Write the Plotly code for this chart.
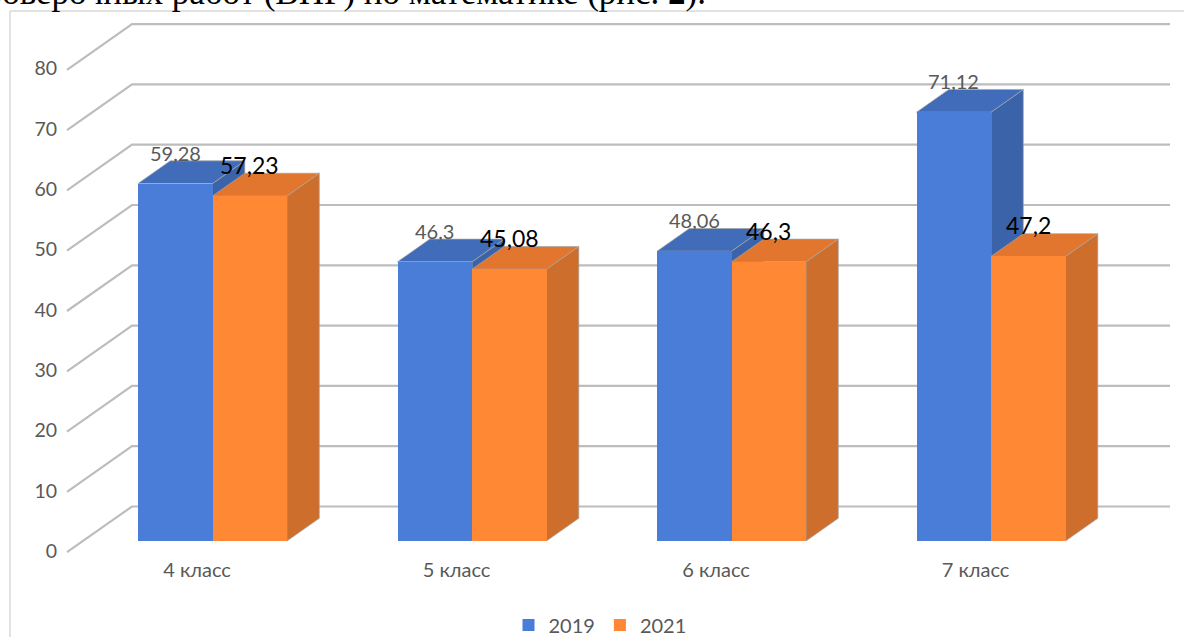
import plotly.graph_objects as go

# --- data ---
categories = ["4 класс", "5 класс", "6 класс", "7 класс"]
series_names = ["2019", "2021"]
values_2019 = [59.28, 46.3, 48.06, 71.12]
values_2021 = [57.23, 45.08, 46.3, 47.2]
y_ticks = [0, 10, 20, 30, 40, 50, 60, 70, 80]
heading = "проверочных работ (ВПР) по математике (рис. <b>2</b>)."

# --- layout constants (pixels) ---
W, H = 1184, 637
GROUP_PX = 259.5          # distance between categories
FIRST_PX = 212.5          # px of first category centre
BAR_PX = 74.5             # width of one bar
PX_PER_UNIT = 6.03
BASE_PX = 541             # px of value 0 on the front plane of the bars
LABEL_BASE_PX = 551       # px of value 0 on the axis labels
DEPTH_X = 32.3 / GROUP_PX # bar depth in x units
DEPTH_Y = 22.7 / PX_PER_UNIT
GRID_DEPTH = (LABEL_BASE_PX - 506.5) / PX_PER_UNIT
GRID_LEFT = (67 - FIRST_PX) / GROUP_PX
GRID_BACK = (132 - FIRST_PX) / GROUP_PX
GRID_RIGHT = (1170 - FIRST_PX) / GROUP_PX
BAR_W = BAR_PX / GROUP_PX

BLUE, BLUE_TOP, BLUE_SIDE = "#4a7dd8", "#416cb9", "#3b63a9"
ORANGE, ORANGE_TOP, ORANGE_SIDE = "#fe8833", "#e2762e", "#cd6e2c"
GRID = "#bdbdbd"
TEXT = "#595959"
FONT = "Lato"

x_range = [-FIRST_PX / GROUP_PX, (W - FIRST_PX) / GROUP_PX]
bar_range = [(BASE_PX - H) / PX_PER_UNIT, BASE_PX / PX_PER_UNIT]
label_range = [(LABEL_BASE_PX - H) / PX_PER_UNIT, LABEL_BASE_PX / PX_PER_UNIT]

fig = go.Figure()

# gridlines: slanted side wall + back wall
for t in y_ticks:
    fig.add_trace(go.Scatter(
        x=[GRID_LEFT, GRID_BACK, GRID_RIGHT],
        y=[t - 0.2, t + GRID_DEPTH, t + GRID_DEPTH],
        mode="lines", line=dict(color=GRID, width=2.2),
        showlegend=False, hoverinfo="skip", xaxis="x", yaxis="y"))


def face(xs, ys, color):
    fig.add_trace(go.Scatter(
        x=xs, y=ys, mode="lines", fill="toself", fillcolor=color,
        line=dict(color="rgba(165,165,165,0.7)", width=1),
        showlegend=False, hoverinfo="skip", xaxis="x", yaxis="y2"))


# side and top faces, painted behind the front faces
for vals, shift, top_c, side_c in [
    (values_2019, -BAR_W / 2, BLUE_TOP, BLUE_SIDE),
    (values_2021, BAR_W / 2, ORANGE_TOP, ORANGE_SIDE),
]:
    for i, v in enumerate(vals):
        l = i + shift - BAR_W / 2
        r = i + shift + BAR_W / 2
        face([r, r + DEPTH_X, r + DEPTH_X, r, r],
             [0, DEPTH_Y, v + DEPTH_Y, v, 0], side_c)
        face([l, l + DEPTH_X, r + DEPTH_X, r, l],
             [v, v + DEPTH_Y, v + DEPTH_Y, v, v], top_c)

# front faces
for name, vals, shift, color in [
    (series_names[0], values_2019, -BAR_W / 2, BLUE),
    (series_names[1], values_2021, BAR_W / 2, ORANGE),
]:
    fig.add_trace(go.Bar(
        x=[i + shift for i in range(len(vals))], y=vals, width=BAR_W,
        name=name, marker=dict(color=color, line=dict(width=0)),
        xaxis="x", yaxis="y3", hoverinfo="skip"))

annotations = []
for vals, shift, color, size, font in [
    (values_2019, -BAR_W / 2, TEXT, 20, FONT),
    (values_2021, BAR_W / 2, "#000000", 23, FONT),
]:
    for i, v in enumerate(vals):
        annotations.append(dict(
            x=i + shift, y=v, xref="x", yref="y3", yshift=31,
            text=f"{v}".replace(".", ","), showarrow=False,
            xanchor="center", yanchor="middle",
            font=dict(family=font, size=size, color=color)))

annotations.append(dict(
    x=706 / W, y=(H - 12) / H, xref="paper", yref="paper",
    xanchor="right", yanchor="bottom", text=heading, showarrow=False,
    borderpad=0, borderwidth=0,
    font=dict(family="Liberation Serif", size=35, color="#000000")))

fig.update_layout(
    width=W, height=H, autosize=False,
    margin=dict(l=0, r=0, t=0, b=0, pad=0, autoexpand=False),
    paper_bgcolor="white", plot_bgcolor="white",
    barmode="overlay", bargap=0,
    annotations=annotations,
    shapes=[
        dict(type="line", xref="paper", yref="paper", x0=10 / W, x1=10 / W,
             y0=0, y1=(H - 11) / H, line=dict(color="#d9d9d9", width=1.5), layer="below"),
        dict(type="line", xref="paper", yref="paper", x0=10 / W, x1=1,
             y0=(H - 11) / H, y1=(H - 11) / H, line=dict(color="#d9d9d9", width=1.5), layer="below"),
    ],
    xaxis=dict(
        range=x_range, domain=[0, 1], anchor="free", position=(H - 556) / H,
        tickmode="array",
        tickvals=[i - 15.5 / GROUP_PX for i in range(len(categories))],
        ticktext=categories, ticks="", showgrid=False, zeroline=False,
        showline=False, tickfont=dict(family=FONT, size=20, color=TEXT)),
    yaxis=dict(
        range=label_range, domain=[0, 1], anchor="free", position=67 / W,
        tickmode="array", tickvals=y_ticks, ticks="outside", ticklen=6,
        tickcolor="rgba(0,0,0,0)", showgrid=False, zeroline=False,
        showline=False, tickfont=dict(family=FONT, size=19.5, color=TEXT)),
    yaxis2=dict(range=bar_range, overlaying="y", visible=False, anchor="x"),
    yaxis3=dict(range=bar_range, overlaying="y", visible=False, anchor="x"),
    legend=dict(
        orientation="h", x=600 / W, xanchor="center", y=(H - 625) / H,
        yanchor="middle", bgcolor="rgba(0,0,0,0)",
        font=dict(family=FONT, size=20, color=TEXT)),
    hovermode=False,
)

fig.write_html("out.html", config={"displayModeBar": False},
               post_script="document.body.style.margin='0';document.body.style.overflow='hidden';")
